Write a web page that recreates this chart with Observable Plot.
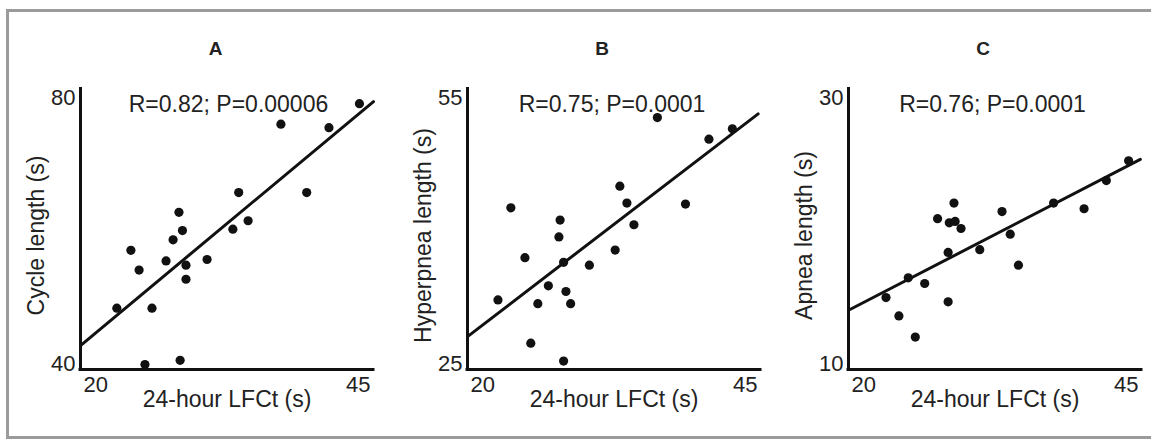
<!DOCTYPE html>
<html>
<head>
<meta charset="utf-8">
<script src="https://cdn.jsdelivr.net/npm/d3@7"></script>
<script src="https://cdn.jsdelivr.net/npm/@observablehq/plot@0.6"></script>
<style>
  html, body { margin: 0; padding: 0; background: #fff; overflow: hidden; }
  #wrap { position: relative; width: 1151px; height: 439px; overflow: hidden; }
  #frame { position: absolute; left: 6px; top: 9px; width: 1200px; height: 424px;
           border: 3px solid #9b9b9b; border-right: none; }
  .panel { position: absolute; top: 0; }
</style>
</head>
<body>
<div id="wrap"><div id="frame"></div></div>
<script>
// ---- Data ----
const panelTitles = ["A", "B", "C"];
const statLabels = ["R=0.82; P=0.00006", "R=0.75; P=0.0001", "R=0.76; P=0.0001"];
const yLabels = ["Cycle length (s)", "Hyperpnea length (s)", "Apnea length (s)"];
const xLabel = "24-hour LFCt (s)";
const xTicks = [20, 45];
const yTicksA = [40, 80];
const yTicksB = [25, 55];
const yTicksC = [10, 30];

const lfctA  = [43.8, 37.1, 41.2, 33.5, 39.3, 28.4, 34.3, 28.7, 33.0, 27.9, 24.3, 27.3, 30.8, 29.0, 25.0, 29.0, 23.1, 26.1, 28.5, 25.5];
const cycleA = [77.7, 74.8, 74.3, 65.1, 65.1, 62.3, 61.1, 59.7, 59.9, 58.4, 56.9, 55.4, 55.6, 54.8, 54.1, 52.8, 48.7, 48.7, 41.3, 40.7];

const lfctB  = [36.2, 42.6, 40.6, 33.0, 33.6, 38.6, 23.7, 27.9, 34.2, 27.8, 32.6, 24.9, 28.2, 30.4, 26.9, 22.6, 28.4, 26.0, 28.8, 25.4, 28.2];
const hyperB = [51.8, 50.6, 49.5, 44.5, 42.7, 42.6, 42.2, 40.9, 40.4, 39.1, 37.7, 36.9, 36.4, 36.1, 33.9, 32.4, 33.3, 32.0, 32.0, 27.8, 25.9];

const lfctC  = [43.9, 42.0, 29.0, 37.5, 33.1, 40.1, 27.6, 28.6, 29.1, 29.6, 33.8, 31.2, 28.5, 34.5, 25.1, 26.5, 23.2, 28.5, 24.3, 25.7];
const apneaC = [24.8, 23.4, 21.8, 21.8, 21.2, 21.4, 20.7, 20.4, 20.5, 20.0, 19.6, 18.5, 18.3, 17.4, 16.5, 16.1, 15.1, 14.8, 13.8, 12.3];

// regression line end points
const fitAX = [20, 45], fitAY = [43.4, 78.0];
const fitBX = [20, 44.8], fitBY = [28.5, 52.2];
const fitCX = [20, 44.9], fitCY = [14.2, 24.9];

const INK = "#111";
const TXT = "#222";
const FONT = "'Liberation Sans', Arial, Helvetica, sans-serif";

function panel({xs, ys, fitX, fitY, yTicks, yLabel, title, stat, titleDx, statDx}) {
  const pts = xs.map((x, i) => ({x, y: ys[i]}));
  const fit = fitX.map((x, i) => ({x, y: fitY[i]}));
  const yDomain = [yTicks[0], yTicks[1]];
  return Plot.plot({
    width: 383, height: 439,
    marginLeft: 80, marginRight: 10, marginTop: 87, marginBottom: 70,
    x: {domain: [xTicks[0], xTicks[1]], axis: null},
    y: {domain: yDomain, axis: null},
    style: {fontFamily: FONT, color: TXT, background: "none", overflow: "visible"},
    marks: [
      Plot.ruleX([xTicks[0]], {y1: yDomain[0], y2: yDomain[1], stroke: INK, strokeWidth: 3}),
      Plot.ruleY([yDomain[0]], {x1: xTicks[0], x2: xTicks[1], stroke: INK, strokeWidth: 3, strokeLinecap: "square"}),
      Plot.line(fit, {x: "x", y: "y", stroke: INK, strokeWidth: 3}),
      Plot.dot(pts, {x: "x", y: "y", r: 4.6, fill: INK, stroke: "none"}),
      // y tick labels
      Plot.text([yTicks[1]], {x: xTicks[0], y: d => d, text: d => String(d), textAnchor: "end", dx: -5, dy: 10, fontSize: 22, fill: TXT}),
      Plot.text([yTicks[0]], {x: xTicks[0], y: d => d, text: d => String(d), textAnchor: "end", dx: -5, dy: -6, fontSize: 22, fill: TXT}),
      // x tick labels
      Plot.text([xTicks[0]], {x: d => d, y: yDomain[0], text: d => String(d), textAnchor: "start", dx: 3, dy: 15, fontSize: 22, fill: TXT}),
      Plot.text([xTicks[1]], {x: d => d, y: yDomain[0], text: d => String(d), textAnchor: "end", dx: -3, dy: 15, fontSize: 22, fill: TXT}),
      // axis titles
      Plot.text([xLabel], {frameAnchor: "bottom", dy: 37, fontSize: 23, fill: TXT}),
      Plot.text([yLabel], {frameAnchor: "left", textAnchor: "middle", lineAnchor: "middle", rotate: -90, dx: -44, dy: 7, fontSize: 23, fill: TXT}),
      // panel title & statistic
      Plot.text([title], {frameAnchor: "top", dx: titleDx, dy: -46, fontSize: 19, fontWeight: "bold", fill: TXT}),
      Plot.text([stat], {frameAnchor: "top", dx: statDx, dy: 8, fontSize: 23, fill: TXT})
    ]
  });
}

const wrap = document.getElementById("wrap");
const specs = [
  {left: 0,   xs: lfctA, ys: cycleA, fitX: fitAX, fitY: fitAY, yTicks: yTicksA, titleDx: -11.5, statDx: 1.5},
  {left: 387, xs: lfctB, ys: hyperB, fitX: fitBX, fitY: fitBY, yTicks: yTicksB, titleDx: -12, statDx: -2},
  {left: 768, xs: lfctC, ys: apneaC, fitX: fitCX, fitY: fitCY, yTicks: yTicksC, titleDx: -12, statDx: -2.5}
];
specs.forEach((s, i) => {
  const svg = panel({...s, yLabel: yLabels[i], title: panelTitles[i], stat: statLabels[i]});
  svg.classList.add("panel");
  svg.style.left = s.left + "px";
  svg.style.position = "absolute";
  svg.style.top = "0px";
  svg.style.maxWidth = "none";
  wrap.appendChild(svg);
});
</script>
</body>
</html>
